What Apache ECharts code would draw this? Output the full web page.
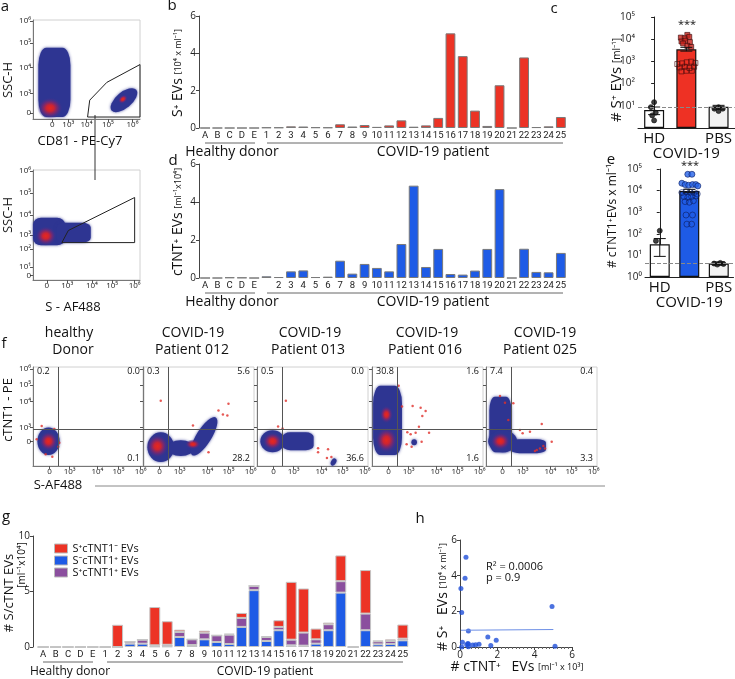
<!DOCTYPE html>
<html>
<head>
<meta charset="utf-8">
<script src="https://cdn.jsdelivr.net/npm/echarts@6/dist/echarts.min.js"></script>
<style>
html, body { margin: 0; padding: 0; background: #fff; }
#chart { width: 735px; height: 679px; }
</style>
</head>
<body>
<div id="chart"></div>
<script>
const FONT = '"Open Sans", "Noto Sans", "DejaVu Sans", sans-serif';
const RED = '#ec3325', BLUE = '#1e5be6', PURPLE = '#8b4f9e', NAVY = '#2e3592';
const SUP = ['⁰', '¹', '²', '³', '⁴', '⁵', '⁶'];

// ---- bar panels b, d, g ----
const cats = ['A','B','C','D','E','1','2','3','4','5','6','7','8','9','10','11','12','13','14','15','16','17','18','19','20','21','22','23','24','25'];
const sPos = [0,0,0,0,0, 0.03,0.03,0.09,0.08,0.04,0.03,0.2,0.08,0.16,0.06,0.14,0.41,0.07,0.14,0.54,5.07,3.85,0.93,0.11,2.29,0,3.78,0.05,0.09,0.59];
const cTnt = [0,0,0.03,0.02,0, 0.09,0.05,0.35,0.4,0.05,0.07,0.91,0.23,0.74,0.53,0.35,1.79,4.86,0.58,1.53,0.21,0.18,0.39,1.53,4.68,0,1.54,0.32,0.3,1.32];
const gBlue   = [0,0,0,0,0, 0,0,0.3,0.3,0.05,0.05,0.9,0.18,0.69,0.45,0.27,1.81,5.12,0.54,1.51,0.15,0.12,0.3,1.51,4.9,0,1.51,0.24,0.27,0.6];
const gPurple = [0,0,0,0,0, 0,0,0.18,0.36,0.1,0.15,0.45,0.51,0.6,0.6,0.84,0.81,0.39,0.36,0.3,0.51,1.18,0.39,0.54,1.03,0,1.5,0.27,0.27,0.15];
const gRed    = [0,0,0,0,0, 0,2.0,0,0,3.45,2.12,0.21,0,0.18,0,0.09,0.45,0,0.09,0.6,5.21,3.97,0.97,0.15,2.32,0,3.92,0.06,0.15,1.27];
const gNames = ['S⁺cTNT1⁻ EVs', 'S⁻cTNT1⁺ EVs', 'S⁺cTNT1⁺ EVs'];

// ---- panels c, e (log) ----
const groups = ['HD', 'COVID-19', 'PBS'];
const cMeans = [6.4, 3500, 9];
const cErr = [[0, 4.0, 8.8], [1, 2900, 4300], [2, 7.0, 10.5]];
const cCutoff = 9;
const cHdDots = [[0, 14.6], [-0.1, 8.7], [0.05, 4.9], [-0.06, 3.7], [0, 2.2]];
const cCovHigh = [[1.03,15600],[0.83,11800],[0.95,11000],[1.09,12700],[0.85,7900],[0.97,8500],[1.11,7400],[0.9,6400],[1.03,5000],[1.15,4500]];
const cCovLow = [[0.72,760],[0.87,815],[1.01,910],[1.15,970],[1.28,850],[0.79,535],[0.95,575],[1.1,500],[1.24,575],[0.85,355],[1.0,380],[1.17,380]];
const cPbsDots = [[1.87, 7.4], [2.0, 8.6], [2.13, 7.4], [2.0, 5.8]];

const eMeans = [33, 9600, 4.2];
const eErr = [[0, 9, 60], [1, 8000, 11500], [2, 3.6, 5]];
const eCutoff = 4.2;
const eHdDots = [[0, 138], [-0.13, 47]];
const eCovHigh = [[0.95,57000],[1.09,57000],[0.75,21900],[0.86,19000],[0.98,17700],[1.11,19000],[1.22,19000],[1.29,16500]];
const eCovLow = [[0.75,8100],[0.89,8900],[1.03,8400],[1.16,8100],[1.27,7000],[0.82,5300],[0.95,4900],[1.08,5300],[1.22,5600],[0.86,3100],[1.0,2900],[1.14,3400],[0.89,740],[1.11,740],[0.92,280],[1.08,280]];
const ePbsDots = [[1.84, 4.2], [1.95, 3.75], [2.05, 4.5], [2.16, 4.0]];

// ---- panel h ----
const hPts = [[0.32,5.03],[0.27,3.85],[0.05,3.28],[0.09,1.93],[0.45,0.9],[4.93,2.27],[1.49,0.56],[1.94,0.38],[0.13,0.26],[0.36,0.13],[0.45,0.17],[0.68,0.11],[0.84,0.13],[1.02,0.15],[1.65,0.09],[5.09,0.04],[0.09,0],[0.45,0.02],[0.42,0.2]];
const hFit = [[0.05, 0.94], [5.0, 0.98]];
const hStats = ['R² = 0.0006', 'p = 0.9'];

// ---- flow cytometry (positions in % of plot box) ----
const flowXLabels = ['0', '10³', '10⁴', '10⁵', '10⁶'];
const aTopX = [18, 33, 50, 70, 93], aTopY = [6, 26, 52, 77, 99];
const aBotX = [13, 32, 55, 74, 95], aBotY = [4, 12, 28, 41, 59, 79, 99];
const aBotYLabels = ['0', '10¹', '10²', '10³', '10⁴', '10⁵', '10⁶'];
const fX = [15, 33, 58, 77, 97], fY = [25, 39, 65, 82, 98];
// populations [x, y, w, h, rotation, rounded-box?]
const aTopBlue = [[20,37,30,70,0,1],[85,19,30,16,40,0]];
const aTopCore = [[16,11,24,22,0],[84,20,10,8,40]];
const aTopGate = [[51,2],[53,19],[69,37],[100,55],[100,2],[51,2]];
const aBotBlue = [[15,44,30,25,0,1],[38,43,32,18,0,1]];
const aBotCore = [[12,40,20,18,0]];
const aBotGate = [[27,34],[33,45],[95,75],[95,34],[27,34]];
const f1Blue = [[14,25,20,28,0,0]], f1Core = [[14,25,17,20,0]];
const f2Blue = [[16,19,24,30,0,0],[34,18,24,16,0,0],[55,30,40,15,58,0]], f2Core = [[13,20,20,24,0],[45,22,14,10,0]];
const f3Blue = [[14,25,22,22,0,0],[37,25,28,18,0,1],[69,4,7,5,60,0]], f3Core = [[14,25,18,18,0]];
const f4Blue = [[14,46,26,70,0,1],[38,24,5,6,0,0]], f4Core = [[13,26,20,26,0],[13,52,12,18,0]];
const f5Blue = [[13,42,20,56,0,1],[15,25,26,22,0,0],[38,20,32,14,0,1]], f5Core = [[13,25,18,18,0]];
const f1Dots = [[7.8,40.4],[19.2,37.4],[23.7,23.6],[22.8,19.5],[11.4,11.8],[17.4,9.4],[3.3,27]];
const f2Dots = [[16,66],[68,56],[72,52],[77,63],[76,51],[45,41],[59,14]];
const f3Dots = [[26,66],[19,40],[23,38],[55,18],[55,14],[64,17],[67,9],[63,8]];
const f4Dots = [[36.6,60.6],[43.8,58.9],[48.3,55.6],[45.3,50.5],[42.3,39.7],[31.8,34],[34.8,32],[39.3,33.7],[51.4,33.7],[44.7,24.6],[35.7,19.5],[31.2,21.9],[27,60],[24,81]];
const f5Dots = [[12.6,70.7],[17.1,64],[24.6,63.3],[20.1,46.5],[30.6,36.4],[33,33],[39.6,34.7],[50.2,42.4],[59.2,24.6],[45.7,16.2],[48.6,17.8],[51.7,20.2],[53.2,17.8],[44.1,15.2]];
const fGate = [23, 37];
const fTitles = [['healthy', 'Donor'], ['COVID-19', 'Patient 012'], ['COVID-19', 'Patient 013'], ['COVID-19', 'Patient 016'], ['COVID-19', 'Patient 025']];
const fStats = [['0.2','0.0','0.1'], ['0.3','5.6','28.2'], ['0.5','0.0','36.6'], ['30.8','1.6','1.6'], ['7.4','0.4','3.3']];

// layout boxes [left, top, width, height]
const BOX = {
  aTop: [33, 20, 107, 99], aBot: [33, 170, 107, 110],
  b: [199, 16, 368, 112], d: [199, 164, 368, 114],
  c: [638, 17, 97, 111], e: [645, 169, 90, 108],
  f1: [33, 367, 111, 99], f2: [143, 367, 111, 99], f3: [257, 367, 111, 99], f4: [372, 367, 111, 99], f5: [486, 367, 111, 99],
  g: [37, 536, 372, 111], h: [460, 540, 112, 107]
};
const ORDER = ['aTop', 'aBot', 'b', 'd', 'c', 'e', 'f1', 'f2', 'f3', 'f4', 'f5', 'g', 'h'];
const gi = k => ORDER.indexOf(k);

const FLOW = {
  aTop: {xt: aTopX, yt: aTopY, yl: flowXLabels, showY: true, blue: aTopBlue, core: aTopCore, gate: aTopGate},
  aBot: {xt: aBotX, yt: aBotY, yl: aBotYLabels, showY: true, blue: aBotBlue, core: aBotCore, gate: aBotGate},
  f1: {xt: fX, yt: fY, yl: flowXLabels, showY: true, blue: f1Blue, core: f1Core, dots: f1Dots},
  f2: {xt: fX, yt: fY, yl: flowXLabels, showY: false, blue: f2Blue, core: f2Core, dots: f2Dots},
  f3: {xt: fX, yt: fY, yl: flowXLabels, showY: false, blue: f3Blue, core: f3Core, dots: f3Dots},
  f4: {xt: fX, yt: fY, yl: flowXLabels, showY: false, blue: f4Blue, core: f4Core, dots: f4Dots},
  f5: {xt: fX, yt: fY, yl: flowXLabels, showY: false, blue: f5Blue, core: f5Core, dots: f5Dots}
};

function flowAxis(i, ticks, labels, showLabels) {
  return {
    type: 'value', gridIndex: i, min: 0, max: 100,
    axisLine: {show: true, lineStyle: {color: '#777', width: 1}},
    axisTick: {show: true, customValues: ticks, length: 3, lineStyle: {color: '#555'}},
    axisLabel: {show: showLabels, customValues: ticks, fontSize: 8, margin: 2, color: '#222',
      formatter: v => { const j = ticks.indexOf(v); return j < 0 ? '' : labels[j]; }},
    splitLine: {show: false}
  };
}
function catAxis(i, hideOne) {
  return {
    type: 'category', gridIndex: i, data: cats,
    axisLine: {show: false}, axisTick: {show: false},
    axisLabel: {interval: 0, fontSize: 9.5, fontFamily: 'Roboto', margin: 3, color: '#222',
      formatter: v => (hideOne && v === '1') ? '' : v}
  };
}
function numAxis(i, max, interval, offset) {
  return {
    type: 'value', gridIndex: i, min: 0, max: max, interval: interval, offset: offset || 0,
    axisLine: {show: true, lineStyle: {color: '#444'}},
    axisTick: {show: true, length: 3, lineStyle: {color: '#444'}},
    axisLabel: {fontSize: 10, margin: 3, color: '#222'},
    splitLine: {show: false}
  };
}
function logAxis(i, hideZero) {
  return {
    type: 'log', gridIndex: i, min: 1, max: 100000, logBase: 10,
    axisLine: {show: true, lineStyle: {color: '#222'}},
    axisTick: {show: true, length: 3, lineStyle: {color: '#222'}},
    axisLabel: {fontSize: 10, margin: 3, color: '#222',
      formatter: v => { const p = Math.round(Math.log10(v)); return (hideZero && p === 0) ? '' : '10' + SUP[p]; }},
    splitLine: {show: false}
  };
}
function groupAxis(i) {
  return {
    type: 'category', gridIndex: i, data: groups,
    axisLine: {show: true, lineStyle: {color: '#222'}}, axisTick: {show: false},
    axisLabel: {interval: 0, fontSize: 15, lineHeight: 15, margin: 3, color: '#111',
      formatter: (v, j) => j === 1 ? '\n' + v : v}
  };
}

const grids = [], xAxes = [], yAxes = [];
ORDER.forEach((k, i) => {
  const [l, t, w, h] = BOX[k];
  grids.push({left: l, top: t, width: w, height: h, show: !!FLOW[k], borderColor: '#d0d0d0', borderWidth: 1});
  if (FLOW[k]) {
    xAxes.push(flowAxis(i, FLOW[k].xt, flowXLabels, true));
    yAxes.push(flowAxis(i, FLOW[k].yt, FLOW[k].yl, FLOW[k].showY));
  } else if (k === 'b' || k === 'd') {
    xAxes.push(catAxis(i, k === 'd'));
    yAxes.push(numAxis(i, 6, 2));
  } else if (k === 'g') {
    xAxes.push(catAxis(i, false));
    yAxes.push(numAxis(i, 10, 5, 4));
  } else if (k === 'c' || k === 'e') {
    xAxes.push(groupAxis(i));
    yAxes.push(logAxis(i, k === 'c'));
  } else if (k === 'h') {
    const hx = numAxis(i, 6, 2);
    hx.minorTick = {show: true, splitNumber: 10, length: 2, lineStyle: {color: '#666'}};
    xAxes.push(hx);
    yAxes.push(numAxis(i, 6, 2));
  }
});
// hidden value axes for jittered dots in c and e
xAxes.push({type: 'value', gridIndex: gi('c'), min: -0.5, max: 2.5, show: false});
xAxes.push({type: 'value', gridIndex: gi('e'), min: -0.5, max: 2.5, show: false});
const CDOT = xAxes.length - 2, EDOT = xAxes.length - 1;

const series = [];
const coreColor = {type: 'radial', x: 0.5, y: 0.5, r: 0.5, colorStops: [
  {offset: 0, color: '#e8281c'}, {offset: 0.3, color: '#cc2433'}, {offset: 0.65, color: 'rgba(110,40,120,0.75)'},
  {offset: 1, color: 'rgba(46,53,146,0)'}]};

Object.keys(FLOW).forEach(k => {
  const i = gi(k), f = FLOW[k], W = BOX[k][2], H = BOX[k][3];
  const blob = (data, color, z, shadow) => ({
    type: 'scatter', xAxisIndex: i, yAxisIndex: i, data: data, silent: true, z: z, clip: false,
    symbol: v => v[5] ? 'roundRect' : 'circle',
    symbolSize: v => [v[2] * W / 100, v[3] * H / 100], symbolRotate: v => v[4],
    itemStyle: shadow ? {color: color, opacity: 1, shadowBlur: 3, shadowColor: 'rgba(46,53,146,0.8)'} : {color: color, opacity: 1}
  });
  const s = blob(f.blue, NAVY, 2, true);
  if (!f.gate) {
    s.markLine = {silent: true, symbol: 'none', label: {show: false}, animation: false,
      lineStyle: {color: '#555', width: 1, type: 'solid'},
      data: [{xAxis: fGate[0]}, {yAxis: fGate[1]}]};
  }
  series.push(s);
  series.push(blob(f.core, coreColor, 3, false));
  if (f.dots) {
    series.push({type: 'scatter', xAxisIndex: i, yAxisIndex: i, data: f.dots, silent: true, z: 4,
      symbolSize: 2.5, itemStyle: {color: '#e0302a'}});
  }
  if (f.gate) {
    series.push({type: 'line', xAxisIndex: i, yAxisIndex: i, data: f.gate, silent: true, z: 5,
      symbol: 'none', lineStyle: {color: '#222', width: 1}});
  }
});

// b, d
series.push({type: 'bar', xAxisIndex: gi('b'), yAxisIndex: gi('b'), data: sPos, barCategoryGap: '20%', silent: true,
  itemStyle: {color: RED, borderColor: '#7a7a7a', borderWidth: 1}});
series.push({type: 'bar', xAxisIndex: gi('d'), yAxisIndex: gi('d'), data: cTnt, barCategoryGap: '20%', silent: true,
  itemStyle: {color: BLUE, borderColor: '#7a7a7a', borderWidth: 1}});

// g stacked
[[gBlue, BLUE, gNames[1]], [gPurple, PURPLE, gNames[2]], [gRed, RED, gNames[0]]].forEach(([d, col, name]) => {
  series.push({type: 'bar', name: name, stack: 'g', xAxisIndex: gi('g'), yAxisIndex: gi('g'), data: d,
    barCategoryGap: '12%', silent: true, itemStyle: {color: col, borderColor: '#c4c4c4', borderWidth: 1}});
});

// c, e
function groupBars(k, means, cutoff, midColor) {
  const fills = ['#ffffff', midColor, '#f2f2f2'];
  return {type: 'bar', xAxisIndex: gi(k), yAxisIndex: gi(k), barWidth: 20, silent: true, z: 2,
    data: means.map((v, j) => ({value: v, itemStyle: {color: fills[j]}})),
    itemStyle: {borderColor: '#111', borderWidth: 1.2},
    markLine: {silent: true, symbol: 'none', label: {show: false}, animation: false,
      lineStyle: {color: '#888', width: 1, type: 'dashed'}, data: [{yAxis: cutoff}]}};
}
function dots(xi, k, data, symbol, size, fill, border) {
  return {type: 'scatter', xAxisIndex: xi, yAxisIndex: gi(k), data: data, symbol: symbol, symbolSize: size,
    silent: true, z: 3, itemStyle: {color: fill, borderColor: border, borderWidth: 0.8}};
}
function errSeries(xi, k, data) {
  return {type: 'custom', xAxisIndex: xi, yAxisIndex: gi(k), data: data, silent: true, z: 4,
    renderItem: (p, api) => {
      const x = api.value(0);
      const lo = api.coord([x, api.value(1)]), hi = api.coord([x, api.value(2)]);
      const w = 6, st = {stroke: '#111', lineWidth: 1};
      return {type: 'group', children: [
        {type: 'line', shape: {x1: lo[0], y1: lo[1], x2: hi[0], y2: hi[1]}, style: st},
        {type: 'line', shape: {x1: hi[0] - w, y1: hi[1], x2: hi[0] + w, y2: hi[1]}, style: st},
        {type: 'line', shape: {x1: lo[0] - w, y1: lo[1], x2: lo[0] + w, y2: lo[1]}, style: st}
      ]};
    }};
}
series.push(groupBars('c', cMeans, cCutoff, '#ee3124'));
series.push(dots(CDOT, 'c', cHdDots, 'circle', 5, '#111', '#111'));
series.push(dots(CDOT, 'c', cCovHigh, 'rect', 5, '#c8231b', '#3a0d0d'));
series.push(dots(CDOT, 'c', cCovLow, 'rect', 5, 'rgba(0,0,0,0)', '#4a0d0d'));
series.push(dots(CDOT, 'c', cPbsDots, 'circle', 5, '#111', '#111'));
series.push(errSeries(CDOT, 'c', cErr));

series.push(groupBars('e', eMeans, eCutoff, BLUE));
series.push(dots(EDOT, 'e', eHdDots, 'circle', 5, '#111', '#111'));
series.push(dots(EDOT, 'e', eCovHigh, 'circle', 6, '#2563e8', '#0d1f66'));
series.push(dots(EDOT, 'e', eCovLow, 'circle', 6, 'rgba(0,0,0,0)', '#0d1f66'));
series.push(dots(EDOT, 'e', ePbsDots, 'circle', 5, '#111', '#111'));
series.push(errSeries(EDOT, 'e', eErr));

// h
series.push({type: 'scatter', xAxisIndex: gi('h'), yAxisIndex: gi('h'), data: hPts, symbolSize: 5, silent: true,
  itemStyle: {color: '#1f4fd8'}});
series.push({type: 'line', xAxisIndex: gi('h'), yAxisIndex: gi('h'), data: hFit, symbol: 'none', silent: true,
  lineStyle: {color: '#6d8fe6', width: 1}});

// ---- text and decorations ----
function T(x, y, text, size, extra) {
  const el = {type: 'text', x: x, y: y, silent: true,
    style: {text: text, fontSize: size, fontFamily: FONT, fill: '#111',
      align: 'center', verticalAlign: 'middle', textAlign: 'center', textVerticalAlign: 'middle'}};
  if (extra) {
    if (extra.rotation) el.rotation = extra.rotation;
    if (extra.align) { el.style.align = extra.align; el.style.textAlign = extra.align; }
    if (extra.rich) el.style.rich = extra.rich;
  }
  return el;
}
function L(x1, y1, x2, y2, color) {
  return {type: 'line', silent: true, shape: {x1, y1, x2, y2}, style: {stroke: color || '#666', lineWidth: 1}};
}
const UP = Math.PI / 2;
const rich = (a, b) => ({a: {fontSize: a, fontFamily: FONT}, b: {fontSize: b, fontFamily: FONT}});
const graphic = [
  T(5, 6.5, 'a', 15), T(172, 5.5, 'b', 15), T(554, 8.5, 'c', 15), T(173, 160.5, 'd', 15),
  T(611, 160, 'e', 15), T(4, 343.5, 'f', 15), T(6, 517, 'g', 15), T(420, 518.5, 'h', 15),
  T(8, 80, 'SSC-H', 13, {rotation: UP}), T(8, 215, 'SSC-H', 13, {rotation: UP}),
  T(80, 141, 'CD81 - PE-Cy7', 13), T(73, 307, 'S - AF488', 13),
  L(95, 115, 95, 180, '#333'),
  T(178, 73, '{a|S⁺ EVs} {b|[10⁴ x ml⁻¹]}', 14, {rotation: UP, rich: rich(14, 9)}),
  T(178, 222, '{a|cTNT⁺ EVs} {b|[ml⁻¹x10⁴]}', 14, {rotation: UP, rich: rich(14, 9)}),
  L(205, 143, 255, 143), L(267, 143, 563, 143),
  T(232, 152, 'Healthy donor', 14), T(433, 152, 'COVID-19 patient', 14),
  L(205, 293, 255, 293), L(267, 293, 563, 293),
  T(232, 302, 'Healthy donor', 14), T(433, 302, 'COVID-19 patient', 14),
  T(617, 80, '{a|# S⁺ EVs} {b|[ml⁻¹]}', 15, {rotation: UP, rich: rich(15, 10)}),
  T(613, 216, '# cTNT1⁺EVs x ml⁻¹', 12, {rotation: UP}),
  T(687, 25, '***', 11), T(690, 166, '***', 11),
  T(8, 410, 'cTNT1 - PE', 13, {rotation: UP}), T(58, 485, 'S-AF488', 13), L(95, 486, 605, 486, '#888'),
  T(9, 593, '# S/cTNT EVs', 13, {rotation: UP}), T(22, 565, '[ml⁻¹x10⁴]', 10, {rotation: UP}),
  L(43, 662, 93, 662), L(107, 662, 403, 662),
  T(70, 672, 'Healthy donor', 12), T(265, 672, 'COVID-19 patient', 12),
  T(443, 597, '{a|# S⁺}   {a|EVs} {b|[10⁴ x ml⁻¹]}', 14, {rotation: UP, rich: rich(14, 9)}),
  T(517, 667, '{a|# cTNT⁺}   {a|EVs} {b|[ml⁻¹ x 10³]}', 14, {rich: rich(14, 9)}),
  T(486, 567, hStats[0], 11, {align: 'left'}), T(486, 578, hStats[1], 11, {align: 'left'})
];
const titleX = [[69, 73], [193, 192], [310, 308], [427, 425], [545, 540]];
['f1', 'f2', 'f3', 'f4', 'f5'].forEach((k, j) => {
  const [l, t, w, h] = BOX[k];
  graphic.push(T(titleX[j][0], 333, fTitles[j][0], 14));
  graphic.push(T(titleX[j][1], 350, fTitles[j][1], 14));
  graphic.push(T(l + 4, t + 4, fStats[j][0], 9, {align: 'left'}));
  graphic.push(T(l + w - 4, t + 4, fStats[j][1], 9, {align: 'right'}));
  graphic.push(T(l + w - 4, t + h - 8, fStats[j][2], 9, {align: 'right'}));
});

const chart = echarts.init(document.getElementById('chart'), null, {renderer: 'canvas'});
chart.setOption({
  animation: false,
  backgroundColor: '#fff',
  textStyle: {fontFamily: FONT},
  grid: grids,
  xAxis: xAxes,
  yAxis: yAxes,
  legend: {left: 49, top: 538, orient: 'vertical', itemWidth: 13, itemHeight: 9, itemGap: 1, icon: 'rect',
    selectedMode: false, data: gNames, textStyle: {fontSize: 11, color: '#111', fontFamily: FONT},
    itemStyle: {borderColor: '#bbb', borderWidth: 1}},
  series: series,
  graphic: graphic
});
</script>
</body>
</html>
